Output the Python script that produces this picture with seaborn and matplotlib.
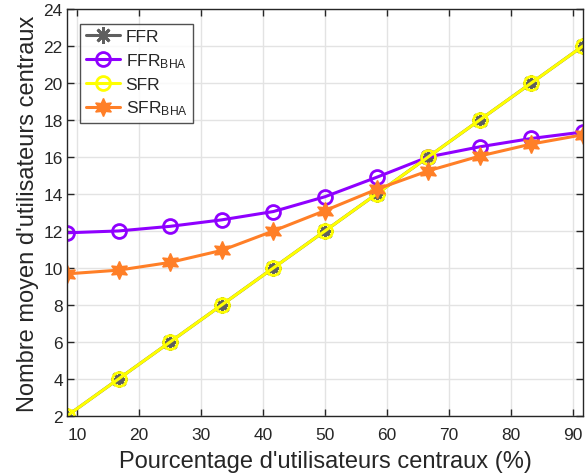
import numpy as np
import pandas as pd
import matplotlib
matplotlib.use("Agg")
import matplotlib.pyplot as plt
import seaborn as sns

# ---- data ----
x_pct = [8.333, 16.667, 25.0, 33.333, 41.667, 50.0, 58.333, 66.667, 75.0, 83.333, 91.667]
ffr = [2, 4, 6, 8, 10, 12, 14, 16, 18, 20, 22]
ffr_bha = [11.9, 12.0, 12.25, 12.6, 13.05, 13.85, 14.9, 16.0, 16.55, 17.0, 17.35]
sfr = [2, 4, 6, 8, 10, 12, 14, 16, 18, 20, 22]
sfr_bha = [9.68, 9.88, 10.3, 10.95, 12.0, 13.1, 14.25, 15.25, 16.05, 16.7, 17.2]
labels = ["FFR", "FFR$_{BHA}$", "SFR", "SFR$_{BHA}$"]
xticks = [10, 20, 30, 40, 50, 60, 70, 80, 90]
yticks = list(range(2, 25, 2))

sns.set_theme(style="white")
plt.rcParams['font.family'] = ['Liberation Sans', 'DejaVu Sans']
plt.rcParams['mathtext.default'] = 'regular'

fig = plt.figure(figsize=(5.85, 4.77), dpi=100)
ax = fig.add_axes([0.1145, 0.126, 0.882, 0.853])

df = pd.DataFrame({"x": x_pct, "FFR": ffr, "FFR_BHA": ffr_bha, "SFR": sfr, "SFR_BHA": sfr_bha})

gray = "#5f5f5f"
purple = "#8f00ff"
yellow = "#ffff00"
orange = "#ff7f27"

sns.lineplot(data=df, x="x", y="FFR", ax=ax, color=gray, lw=2.2,
             marker=(8, 2, 0), markersize=12, markeredgewidth=2.0,
             markeredgecolor=gray, label=labels[0])
sns.lineplot(data=df, x="x", y="FFR_BHA", ax=ax, color=purple, lw=2.2,
             marker="o", markersize=10, markerfacecolor="none",
             markeredgewidth=2.0, markeredgecolor=purple, label=labels[1])
sns.lineplot(data=df, x="x", y="SFR", ax=ax, color=yellow, lw=2.2,
             marker="o", markersize=10, markerfacecolor="none",
             markeredgewidth=2.0, markeredgecolor=yellow, label=labels[2])
sns.lineplot(data=df, x="x", y="SFR_BHA", ax=ax, color=orange, lw=2.2,
             marker=(6, 1, 0), markersize=13, markerfacecolor=orange,
             markeredgewidth=1.0, markeredgecolor=orange, label=labels[3])

ax.set_xlim(8.333, 91.667)
ax.set_ylim(2, 24)
ax.set_xticks(xticks)
ax.set_yticks(yticks)
ax.grid(True, color="#e3e3e3", lw=1.0)
ax.set_axisbelow(True)
for s in ax.spines.values():
    s.set_color("#262626")
    s.set_linewidth(1.0)
ax.tick_params(direction="in", length=5, width=1, colors="#262626",
               labelsize=12.5, top=True, right=True, bottom=True, left=True)
ax.tick_params(axis="x", pad=8)
ax.tick_params(axis="y", pad=3)
ax.set_xlabel("Pourcentage d'utilisateurs centraux (%)", fontsize=17, color="#262626", labelpad=6)
ax.set_ylabel("Nombre moyen d'utilisateurs centraux", fontsize=17, color="#262626", labelpad=3)

leg = ax.legend(loc="upper left", bbox_to_anchor=(0.026, 0.964), fontsize=12.5,
                handlelength=2.0, frameon=True, fancybox=False,
                borderpad=0.3, labelspacing=0.4, handletextpad=0.3,
                borderaxespad=0.0)
leg.get_frame().set_edgecolor("#262626")
leg.get_frame().set_linewidth(1.0)
for t in leg.get_texts():
    t.set_color("#262626")

fig.savefig("out.png", dpi=100)
